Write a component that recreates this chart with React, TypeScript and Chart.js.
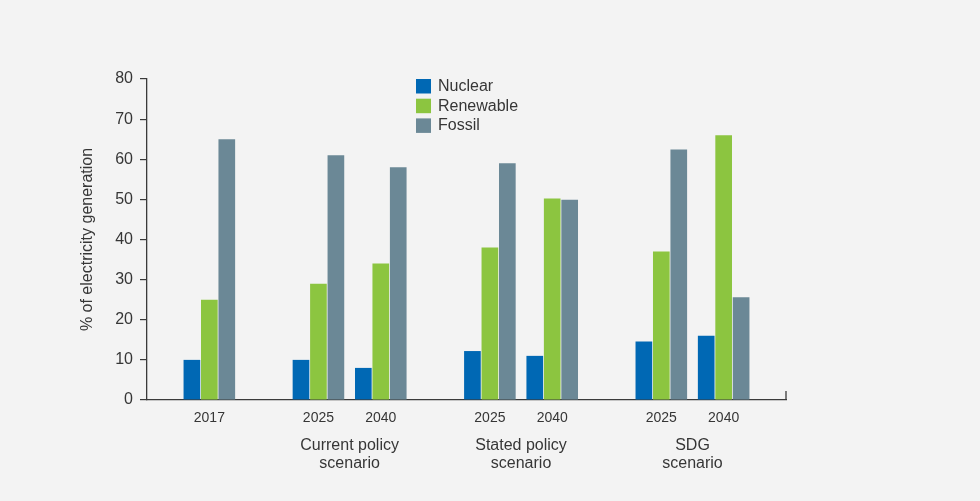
import React, { useEffect, useRef } from "react";
import { Chart, registerables } from "chart.js";

Chart.register(...registerables);

// ---- data ----
const yearLabels = ["2017", "2025", "2040", "2025", "2040", "2025", "2040"];
const nuclear = [10, 10, 8, 12.2, 11, 14.6, 16];
const renewable = [25, 29, 34, 38, 50.2, 37, 66];
const fossil = [65, 61, 58, 59, 49.9, 62.4, 25.6];
const scenarioLabels = [["Current policy", "scenario"], ["Stated policy", "scenario"], ["SDG", "scenario"]];
const seriesNames = ["Nuclear", "Renewable", "Fossil"];
const yTicks = [0, 10, 20, 30, 40, 50, 60, 70, 80];

// ---- layout of category slots along the x axis (axis units) ----
const slotX = [4, 11, 15, 22, 26, 33, 37];
const scenarioX = [13, 24, 35];
const X_MAX = 41;

const COLORS = ["#0068b4", "#8cc540", "#6b8896"];
const TEXT = "#363636";
const AXIS = "#3a3a3a";
const FONT = "'Liberation Sans', Arial, Helvetica, sans-serif";

const legendPlugin = {
  id: "customLegend",
  afterDraw(chart: any) {
    const ctx = chart.ctx;
    const x0 = 416;
    const y0 = 79;
    ctx.save();
    chart.data.datasets.forEach((ds: any, i: number) => {
      const y = y0 + i * 19.7;
      ctx.fillStyle = ds.backgroundColor;
      ctx.fillRect(x0, y, 15, 14.5);
      ctx.fillStyle = TEXT;
      ctx.font = `16px ${FONT}`;
      ctx.textBaseline = "middle";
      ctx.textAlign = "left";
      ctx.fillText(ds.label, x0 + 22, y + 7.5);
    });
    ctx.restore();
  },
};

const endTickPlugin = {
  id: "endTick",
  afterDraw(chart: any) {
    const { ctx, chartArea } = chart;
    ctx.save();
    ctx.strokeStyle = AXIS;
    ctx.lineWidth = 1.3;
    ctx.beginPath();
    ctx.moveTo(chartArea.right, chartArea.bottom);
    ctx.lineTo(chartArea.right, chartArea.bottom - 9);
    ctx.stroke();
    ctx.restore();
  },
};

export default function App() {
  const ref = useRef<HTMLCanvasElement | null>(null);

  useEffect(() => {
    document.body.style.margin = "0";
    const mk = (vals: number[], i: number) => ({
      label: seriesNames[i],
      data: vals.map((v, k) => ({ x: slotX[k], y: v })),
      backgroundColor: COLORS[i],
      borderWidth: 0,
      categoryPercentage: 0.84,
      barPercentage: 0.955,
    });
    const chart = new Chart(ref.current as HTMLCanvasElement, {
      type: "bar",
      data: {
        datasets: [mk(nuclear, 0), mk(renewable, 1), mk(fossil, 2)],
      },
      plugins: [legendPlugin, endTickPlugin],
      options: {
        animation: false,
        responsive: true,
        maintainAspectRatio: false,
        layout: { padding: { left: 78, top: 79, right: 194, bottom: 27 } },
        plugins: {
          legend: { display: false },
          tooltip: { enabled: false },
        },
        scales: {
          x: {
            type: "linear",
            position: "bottom",
            weight: 0,
            min: 0,
            max: X_MAX,
            offset: false,
            afterBuildTicks: (s: any) => {
              s.ticks = slotX.map((v) => ({ value: v }));
            },
            afterFit: (s: any) => {
              s.height = 28;
            },
            ticks: {
              autoSkip: false,
              maxRotation: 0,
              padding: 2,
              color: TEXT,
              font: { family: FONT, size: 14 },
              callback: (v: any) => {
                const k = slotX.indexOf(Number(v));
                return k >= 0 ? yearLabels[k] : "";
              },
            },
            grid: { display: false, offset: false },
            border: { display: true, color: AXIS, width: 1.3 },
          },
          x2: {
            type: "linear",
            position: "bottom",
            weight: 1,
            min: 0,
            max: X_MAX,
            offset: false,
            afterBuildTicks: (s: any) => {
              s.ticks = scenarioX.map((v) => ({ value: v }));
            },
            afterFit: (s: any) => {
              s.height = 46;
            },
            ticks: {
              autoSkip: false,
              maxRotation: 0,
              padding: 0,
              color: TEXT,
              font: { family: FONT, size: 16, lineHeight: 1.15 },
              callback: (v: any) => {
                const k = scenarioX.indexOf(Number(v));
                return k >= 0 ? scenarioLabels[k] : "";
              },
            },
            grid: { display: false },
            border: { display: false },
          },
          y: {
            min: 0,
            max: 80,
            afterBuildTicks: (s: any) => {
              s.ticks = yTicks.map((v) => ({ value: v }));
            },
            afterFit: (s: any) => {
              s.width = 69;
            },
            ticks: {
              padding: 7,
              color: TEXT,
              font: { family: FONT, size: 16 },
            },
            grid: {
              drawOnChartArea: false,
              drawTicks: true,
              tickLength: 7,
              color: AXIS,
              lineWidth: 1.2,
            },
            border: { display: true, color: AXIS, width: 1.3 },
            title: {
              display: true,
              text: "% of electricity generation",
              color: TEXT,
              font: { family: FONT, size: 16 },
              padding: { top: 0, bottom: 0 },
            },
          },
        },
      } as any,
    });
    return () => chart.destroy();
  }, []);

  return (
    <div
      style={{
        position: "fixed",
        left: 0,
        top: 0,
        width: 980,
        height: 501,
        background: "#f3f3f3",
      }}
    >
      <canvas ref={ref} />
    </div>
  );
}
